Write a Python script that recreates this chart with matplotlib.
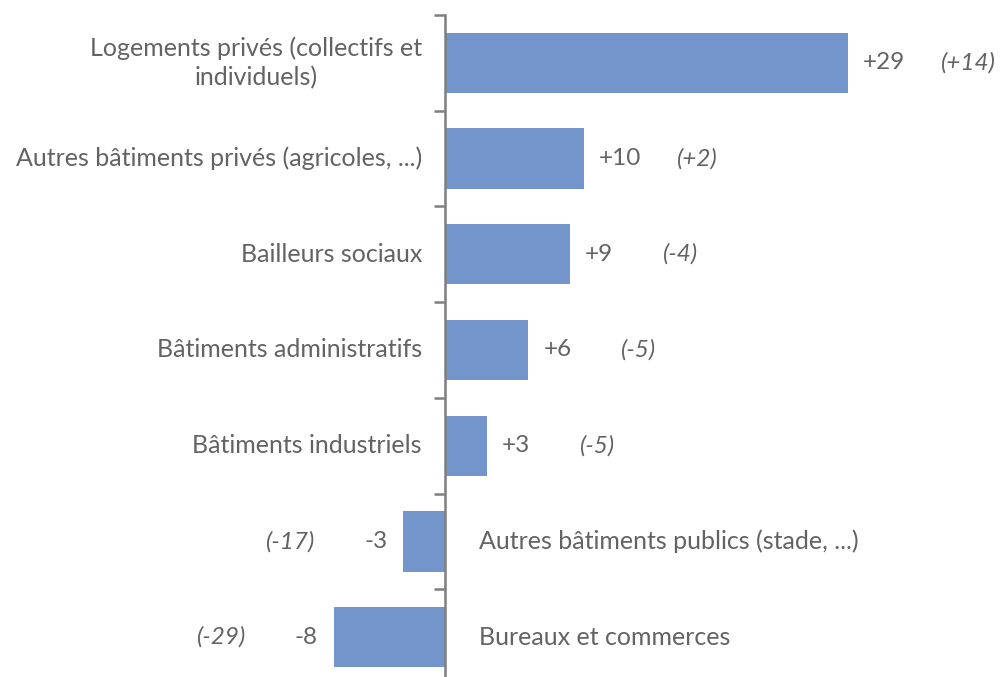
#!/usr/bin/env python3

import numpy as np
import matplotlib.pyplot as plt
from matplotlib.ticker import FixedLocator, NullLocator

plt.rcParams["font.family"] = ["Lato", "DejaVu Sans"]

# data
categories = ["Logements privés (collectifs et\nindividuels)",
              "Autres bâtiments privés (agricoles, ...)",
              "Bailleurs sociaux",
              "Bâtiments administratifs",
              "Bâtiments industriels",
              "Autres bâtiments publics (stade, ...)",
              "Bureaux et commerces"]
values = [29, 10, 9, 6, 3, -3, -8]
previous = ["(+14)", "(+2)", "(-4)", "(-5)", "(-5)", "(-17)", "(-29)"]

bar_color = "#7494cc"
text_color = "#636363"
axis_color = "#7f7f7f"
fsize = 18
vsize = 17.5

fig = plt.figure(figsize=(10.03, 6.77), dpi=100)
H = 677.0
ax = fig.add_axes([0, 1 - 685/H, 1, (685 - 15)/H])

y = np.arange(len(values))
ax.barh(y, values, height=0.63, color=bar_color, zorder=2)
ax.set_ylim(len(values) - 0.5, -0.5)
ax.set_xlim(-445/13.9, 558/13.9)

for s in ["top", "right", "bottom"]:
    ax.spines[s].set_visible(False)
ax.spines["left"].set_position(("data", 0))
ax.spines["left"].set_color(axis_color)
ax.spines["left"].set_linewidth(1.8)
ax.spines["left"].set_zorder(3)
ax.xaxis.set_major_locator(NullLocator())
ax.yaxis.set_major_locator(NullLocator())
ax.yaxis.set_minor_locator(FixedLocator(np.arange(-0.5, len(values), 1.0)))
ax.tick_params(axis="y", which="minor", length=8, width=1.8, color=axis_color,
               direction="out", labelleft=False)

for i, (v, lab, prev) in enumerate(zip(values, categories, previous)):
    if v >= 0:
        ax.annotate(lab, xy=(0, i), xytext=(-23, 0), textcoords="offset pixels",
                    ha="right", va="center", ma="center", color=text_color,
                    fontsize=fsize, linespacing=1.3)
        ax.annotate("+%d" % v, xy=(v, i), xytext=(15, 0), textcoords="offset pixels",
                    ha="left", va="center", color=text_color, fontsize=vsize)
        ax.annotate(prev, xy=(v, i), xytext=(93, 0), textcoords="offset pixels",
                    ha="left", va="center", color=text_color, fontsize=vsize,
                    style="italic")
    else:
        ax.annotate(lab, xy=(0, i), xytext=(34, 0), textcoords="offset pixels",
                    ha="left", va="center", color=text_color, fontsize=fsize)
        ax.annotate("%d" % v, xy=(v, i), xytext=(-16, 0), textcoords="offset pixels",
                    ha="right", va="center", color=text_color, fontsize=vsize)
        ax.annotate(prev, xy=(v, i), xytext=(-88, 0), textcoords="offset pixels",
                    ha="right", va="center", color=text_color, fontsize=vsize,
                    style="italic")

fig.savefig("out.png", dpi=100)
